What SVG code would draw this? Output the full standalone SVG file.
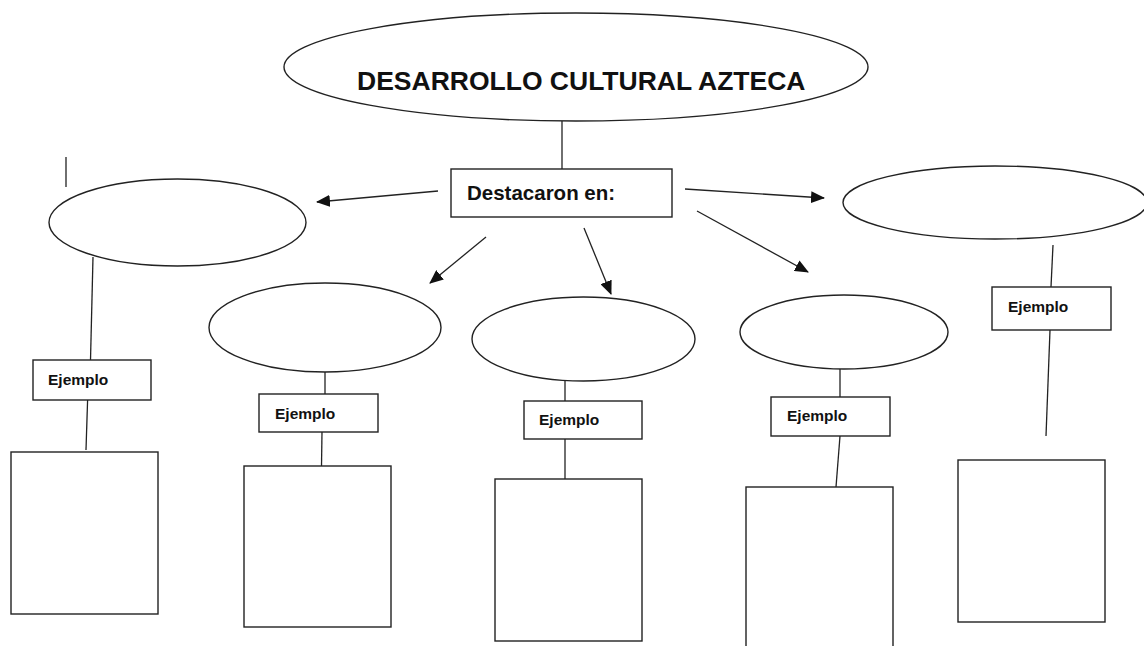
<svg xmlns="http://www.w3.org/2000/svg" width="1144" height="646" viewBox="0 0 1144 646">
<style>
.s{fill:#fff;stroke:#222;stroke-width:1.4}
.l{fill:none;stroke:#222;stroke-width:1.3}
.t{font-family:"Liberation Sans",Arial,sans-serif;font-weight:bold;fill:#111}
.e{font-size:15.5px}
</style>
<defs>
<marker id="ah" markerWidth="14" markerHeight="12" refX="13" refY="6" orient="auto" markerUnits="userSpaceOnUse">
<path d="M0,0 L14,6 L0,12 Z" fill="#111"/>
</marker>
</defs>
<rect width="1144" height="646" fill="#fff"/>
<g id="connectors">
<line class="l" x1="562" y1="121" x2="562" y2="169"/>
<line class="l" x1="438" y1="191" x2="317" y2="202" marker-end="url(#ah)"/>
<line class="l" x1="486" y1="237" x2="430" y2="283" marker-end="url(#ah)"/>
<line class="l" x1="584" y1="228" x2="611" y2="294" marker-end="url(#ah)"/>
<line class="l" x1="697" y1="211" x2="808" y2="272" marker-end="url(#ah)"/>
<line class="l" x1="685" y1="189" x2="824" y2="198" marker-end="url(#ah)"/>
<line class="l" x1="66" y1="157" x2="66" y2="187"/>
<line class="l" x1="93" y1="257" x2="90.5" y2="360"/>
<line class="l" x1="87.6" y1="400" x2="86" y2="450"/>
<line class="l" x1="325" y1="372" x2="325" y2="394"/>
<line class="l" x1="322" y1="432" x2="321.5" y2="466"/>
<line class="l" x1="565" y1="380" x2="565" y2="401"/>
<line class="l" x1="565" y1="439" x2="565" y2="479"/>
<line class="l" x1="840" y1="369" x2="840" y2="397"/>
<line class="l" x1="840" y1="436" x2="836" y2="487"/>
<line class="l" x1="1053" y1="245" x2="1051" y2="287"/>
<line class="l" x1="1050" y1="330" x2="1046" y2="436"/>
</g>
<g id="title">
<ellipse class="s" cx="576" cy="67" rx="292" ry="54"/>
<text class="t" x="357" y="90" font-size="26.5">DESARROLLO CULTURAL AZTECA</text>
</g>
<g id="destacaron">
<rect class="s" x="451" y="169" width="221" height="48"/>
<text class="t" x="467" y="200" font-size="20.5">Destacaron en:</text>
</g>
<g id="e1"><ellipse class="s" cx="177.5" cy="222.5" rx="128.5" ry="43.5"/></g>
<g id="e2"><ellipse class="s" cx="325" cy="327.5" rx="116" ry="44.5"/></g>
<g id="e3"><ellipse class="s" cx="583.5" cy="339" rx="111.5" ry="42"/></g>
<g id="e4"><ellipse class="s" cx="844" cy="332" rx="104" ry="37"/></g>
<g id="e5"><ellipse class="s" cx="995" cy="202.5" rx="152" ry="36.5"/></g>
<g id="ej1"><rect class="s" x="33" y="360" width="118" height="40"/><text class="t e" x="48" y="385">Ejemplo</text></g>
<g id="ej2"><rect class="s" x="259" y="394" width="119" height="38"/><text class="t e" x="275" y="419">Ejemplo</text></g>
<g id="ej3"><rect class="s" x="524" y="401" width="118" height="38"/><text class="t e" x="539" y="425">Ejemplo</text></g>
<g id="ej4"><rect class="s" x="771" y="397" width="119" height="39"/><text class="t e" x="787" y="421">Ejemplo</text></g>
<g id="ej5"><rect class="s" x="992" y="287" width="119" height="43"/><text class="t e" x="1008" y="312">Ejemplo</text></g>
<g id="r1"><rect class="s" x="11" y="452" width="147" height="162"/></g>
<g id="r2"><rect class="s" x="244" y="466" width="147" height="161"/></g>
<g id="r3"><rect class="s" x="495" y="479" width="147" height="162"/></g>
<g id="r4"><rect class="s" x="746" y="487" width="147" height="170"/></g>
<g id="r5"><rect class="s" x="958" y="460" width="147" height="162"/></g>
</svg>
